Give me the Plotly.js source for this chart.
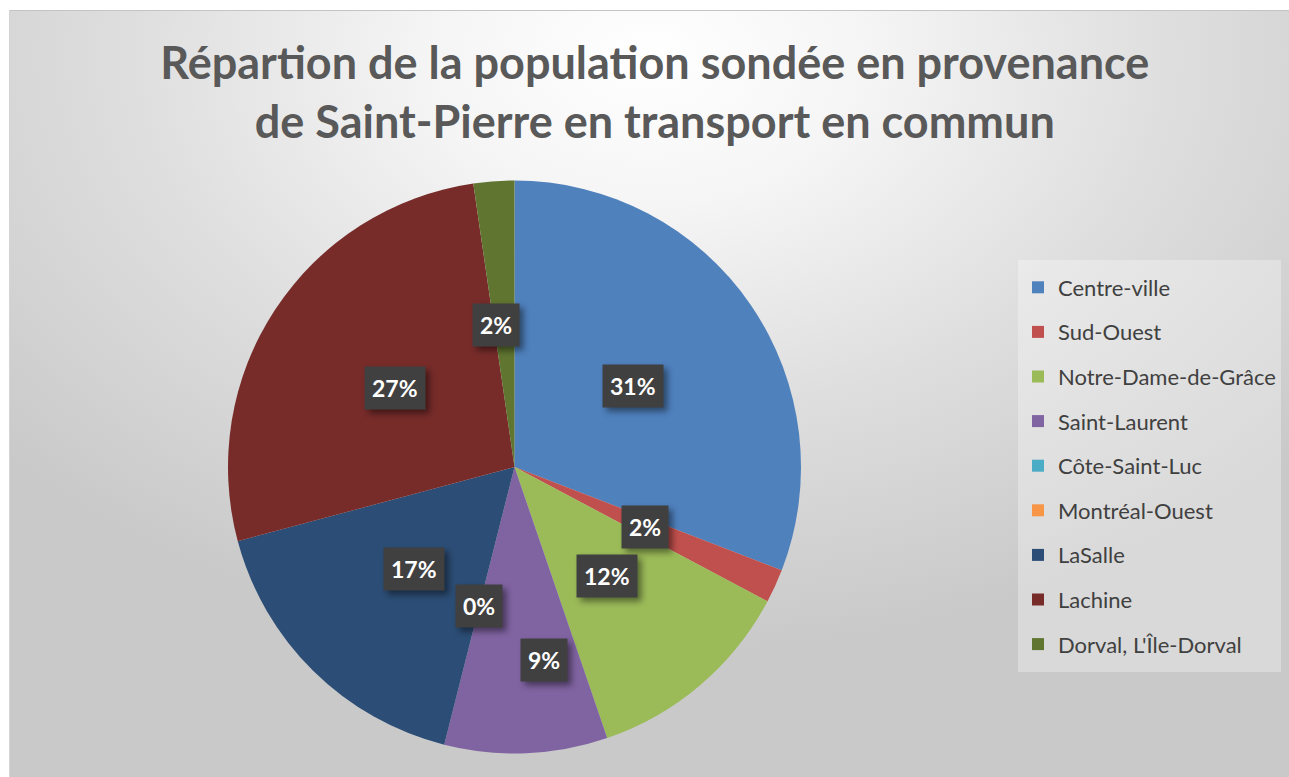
<!DOCTYPE html>
<html><head><meta charset="utf-8">
<script src="https://cdn.plot.ly/plotly-3.0.1.min.js"></script>
<style>
html,body{margin:0;padding:0;background:#fff;width:1289px;height:777px;overflow:hidden}
#bg{position:absolute;left:9px;top:10px;width:1280px;height:767px;box-sizing:border-box;border-top:1px solid #c4c4c4;border-left:1px solid #d4d4d4;
background: radial-gradient(ellipse 68% 78% at 50% 6%, #ffffff 0%, #f5f5f5 25%, #dedede 60%, #c9c9c9 100%);}
#chart{position:absolute;left:0;top:0;width:1289px;height:777px}
#chart .annotation rect.bg{filter:drop-shadow(4px 4px 3px rgba(0,0,0,0.45));}
</style></head><body><div id="bg"></div><div id="chart"></div>
<script>
const categories = ["Centre-ville", "Sud-Ouest", "Notre-Dame-de-Grâce", "Saint-Laurent", "Côte-Saint-Luc", "Montréal-Ouest", "LaSalle", "Lachine", "Dorval, L'Île-Dorval"];
const values = [30.9, 1.9, 12.0, 9.2, 0, 0, 16.9, 26.9, 2.3];
const colors = ["#4F81BD", "#C0504D", "#9BBB59", "#8064A2", "#4BACC6", "#F79646", "#2C4D75", "#772C2A", "#5F7530"];
const titleText = "Répartion de la population sondée en provenance<br>de Saint-Pierre en transport en commun";

// label placement tweaks (best-fit, like the reference): radius fraction and angle shift in degrees
const labelTweak = {"Saint-Laurent": {r: 0.68, dA: -6.5}, "Dorval, L'Île-Dorval": {r: 0.5, dA: -3.3}};

const W = 1289, H = 777;
const dom = {x: [228 / W, 801 / W], y: [1 - 754 / H, 1 - 180 / H]};

const trace = {
  type: 'pie',
  labels: categories.map(c => '<span style="font-size:22px;baseline-shift:4px">' + c + '</span>'),
  values: values,
  sort: false,
  direction: 'clockwise',
  rotation: 0,
  marker: {colors: colors, line: {width: 0}},
  textinfo: 'none',
  hoverinfo: 'label+percent',
  domain: dom
};

// data labels on each slice's mid-angle, computed from the values
const total = values.reduce((a, b) => a + b, 0);
const cx = (dom.x[0] + dom.x[1]) / 2, cy = (dom.y[0] + dom.y[1]) / 2;
const R = Math.min(W * (dom.x[1] - dom.x[0]), H * (dom.y[1] - dom.y[0])) / 2;
const annotations = [];
const seen = new Set();
let cum = 0;
values.forEach((v, i) => {
  const tw = labelTweak[categories[i]] || {r: 0.5, dA: 0};
  const mid = (cum + v / 2) / total * 2 * Math.PI + tw.dA * Math.PI / 180;
  cum += v;
  const x = cx + tw.r * R * Math.sin(mid) / W;
  const y = cy + tw.r * R * Math.cos(mid) / H;
  const key = x.toFixed(4) + ',' + y.toFixed(4);
  if (seen.has(key)) return; // identical spot (consecutive zero slices) -> one label
  seen.add(key);
  const txt = Math.round(v / total * 100) + '%';
  annotations.push({x: x, y: y, xref: 'paper', yref: 'paper', text: '<b>' + txt + '</b>', showarrow: false,
    xanchor: 'center', yanchor: 'middle',
    font: {family: 'Lato', size: 23, color: '#ffffff'},
    bgcolor: '#404040', borderpad: 7});
});

const layout = {
  width: W, height: H,
  margin: {l: 0, r: 0, t: 0, b: 0},
  paper_bgcolor: 'rgba(0,0,0,0)',
  plot_bgcolor: 'rgba(0,0,0,0)',
  title: {text: '<b>' + titleText + '</b>', x: 0.508, xanchor: 'center', y: 1 - 79 / H, yanchor: 'middle',
    yref: 'container', font: {family: 'Lato', size: 45, color: '#595959'}},
  showlegend: true,
  legend: {x: 1018 / W, xanchor: 'left', y: 1 - 260 / H, yanchor: 'top',
    bgcolor: 'rgba(255,255,255,0.3)', borderwidth: 0,
    font: {family: 'Lato', size: 32, color: '#404040'}, traceorder: 'normal'},
  annotations: annotations
};

Plotly.newPlot('chart', [trace], layout, {displayModeBar: false, staticPlot: true});
</script>
</body></html>
